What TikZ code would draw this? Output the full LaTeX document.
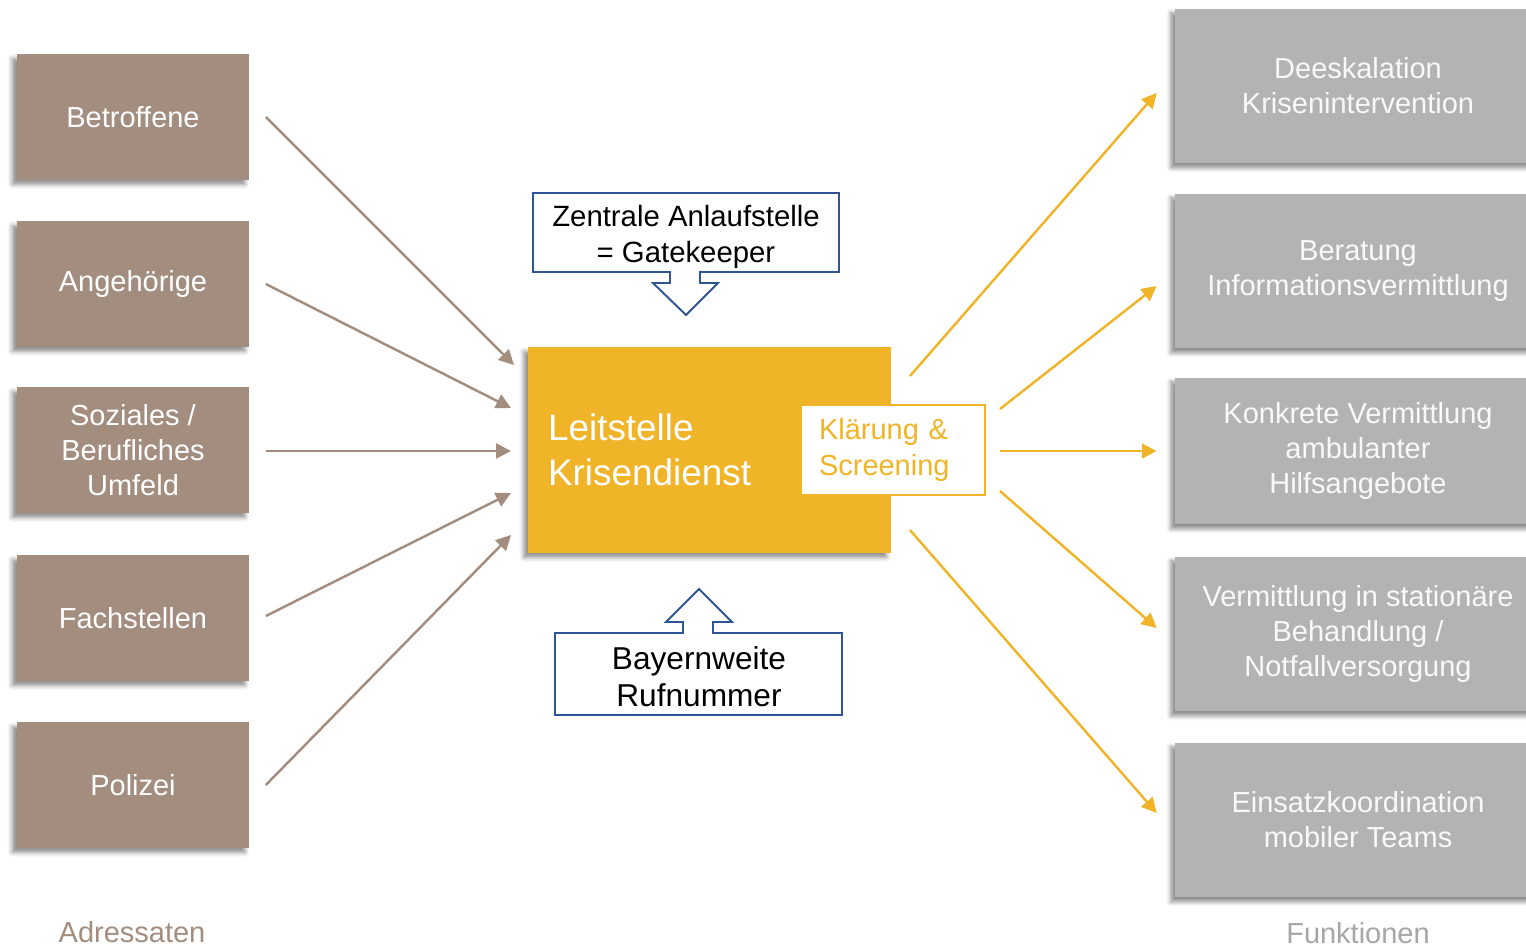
\documentclass[tikz,border=0pt]{standalone}
\usepackage{fontspec}
\setmainfont{Liberation Sans}
\usepackage{xcolor}
\definecolor{taupe}{HTML}{A38D7F}
\definecolor{gold}{HTML}{F0B429}
\definecolor{boxgray}{HTML}{B3B3B3}
\definecolor{labelgray}{HTML}{A6A6A6}
\definecolor{navyblue}{HTML}{2F5597}
\usetikzlibrary{positioning,calc,shadows.blur,arrows.meta}

\begin{document}
\begin{tikzpicture}[x=0.02cm, y=-0.02cm,
    schatten/.style={blur shadow={shadow xshift=-2.5pt, shadow yshift=-2.5pt, shadow blur radius=2.5pt, shadow opacity=45}},
    adressat/.style={schatten, fill=taupe, text=white, minimum width=4.66cm, minimum height=2.52cm, align=center, font=\fontsize{16.5}{19.9}\selectfont},
    funktion/.style={schatten, fill=boxgray, text=white!95!gray, minimum width=7.32cm, minimum height=3.1cm, align=center, font=\fontsize{16.5}{19.9}\selectfont},
    leitbox/.style={schatten, fill=gold, text=white, minimum width=7.26cm, minimum height=4.12cm, text width=6.46cm, align=left, font=\fontsize{21}{25.6}\selectfont},
    klaerbox/.style={draw=gold, line width=1.1pt, fill=white, text=gold, minimum width=3.68cm, minimum height=1.8cm, text width=2.96cm, inner xsep=0.36cm, align=left, font=\fontsize{16.5}{20.5}\selectfont},
    callout/.style={draw=navyblue, line width=1.1pt, fill=white},
    calltext/.style={align=center, font=\fontsize{16.7}{20.4}\selectfont},
    inpfeil/.style={draw=taupe, line width=1.4pt, -{Triangle[length=8.5pt, width=8.5pt]}},
    outpfeil/.style={draw=gold, line width=1.4pt, -{Triangle[length=8.5pt, width=8.5pt]}},
    fusstext/.style={font=\fontsize{16.5}{19.9}\selectfont}]
  \useasboundingbox (0,0) rectangle (1526,947);

  % Adressaten
  \node[adressat] (betr) at (133,117) {Betroffene};
  \node[adressat] (angeh) at (133,284) {Angehörige};
  \node[adressat] (sozial) at (133,450) {Soziales /\\Berufliches\\Umfeld};
  \node[adressat] (fach) at (133,618) {Fachstellen};
  \node[adressat] (poli) at (133,785) {Polizei};
  \node[fusstext, text=taupe] (adr) at (132,932) {Adressaten};

  % Funktionen
  \node[funktion] (deesk) at (1358,86) {Deeskalation\\Krisenintervention};
  \node[funktion] (berat) at (1358,271) {Beratung\\Informationsvermittlung};
  \node[funktion, minimum height=2.94cm] (konkr) at (1358,451) {Konkrete Vermittlung\\ambulanter\\Hilfsangebote};
  \node[funktion] (stat) at (1358,634) {Vermittlung in stationäre\\Behandlung /\\Notfallversorgung};
  \node[funktion] (einsatz) at (1358,820) {Einsatzkoordination\\mobiler Teams};
  \node[fusstext, text=labelgray] (funk) at (1358,933) {Funktionen};

  % Leitstelle
  \node[leitbox] (leit) at (709.5,450) {Leitstelle\\Krisendienst};
  \node[klaerbox] (klaer) at (893,450) {Klärung \&\\Screening};

  % Zentrale Anlaufstelle
  \draw[callout] (533,193) -- (839,193) -- (839,272) -- (700,272) -- (700,283) -- (718,283)
    -- (686,315) -- (653,283) -- (670,283) -- (670,272) -- (533,272) -- cycle;
  \node[calltext] (gate) at (686,237) {Zentrale Anlaufstelle\\= Gatekeeper};

  % Rufnummer
  \draw[callout] (555,633) -- (683,633) -- (683,622) -- (666,622) -- (699,589) -- (732,622)
    -- (713,622) -- (713,633) -- (842,633) -- (842,715) -- (555,715) -- cycle;
  \node[calltext, font=\fontsize{18}{21}\selectfont] (ruf) at (699,677) {Bayernweite\\Rufnummer};

  % Pfeile hinein
  \coordinate (e1) at (514,365);
  \coordinate (e2) at (511,408);
  \coordinate (e3) at (511,451);
  \coordinate (e4) at (511,493);
  \coordinate (e5) at (511,535);
  \draw[inpfeil] ($(betr.east)+(16,0)$) -- (e1);
  \draw[inpfeil] ($(angeh.east)+(16,0)$) -- (e2);
  \draw[inpfeil] ($(sozial.east)+(16,1)$) -- (e3);
  \draw[inpfeil] ($(fach.east)+(16,-2)$) -- (e4);
  \draw[inpfeil] ($(poli.east)+(16,0)$) -- (e5);

  % Pfeile hinaus
  \coordinate (s1) at (910,376);
  \coordinate (s2) at (1000,409);
  \coordinate (s3) at (1000,451);
  \coordinate (s4) at (1000,491);
  \coordinate (s5) at (910,530);
  \draw[outpfeil] (s1) -- ($(deesk.west)+(-18,7)$);
  \draw[outpfeil] (s2) -- ($(berat.west)+(-18,15)$);
  \draw[outpfeil] (s3) -- ($(konkr.west)+(-18,0)$);
  \draw[outpfeil] (s4) -- ($(stat.west)+(-18,-6)$);
  \draw[outpfeil] (s5) -- ($(einsatz.west)+(-18,-7)$);
\end{tikzpicture}
\end{document}
